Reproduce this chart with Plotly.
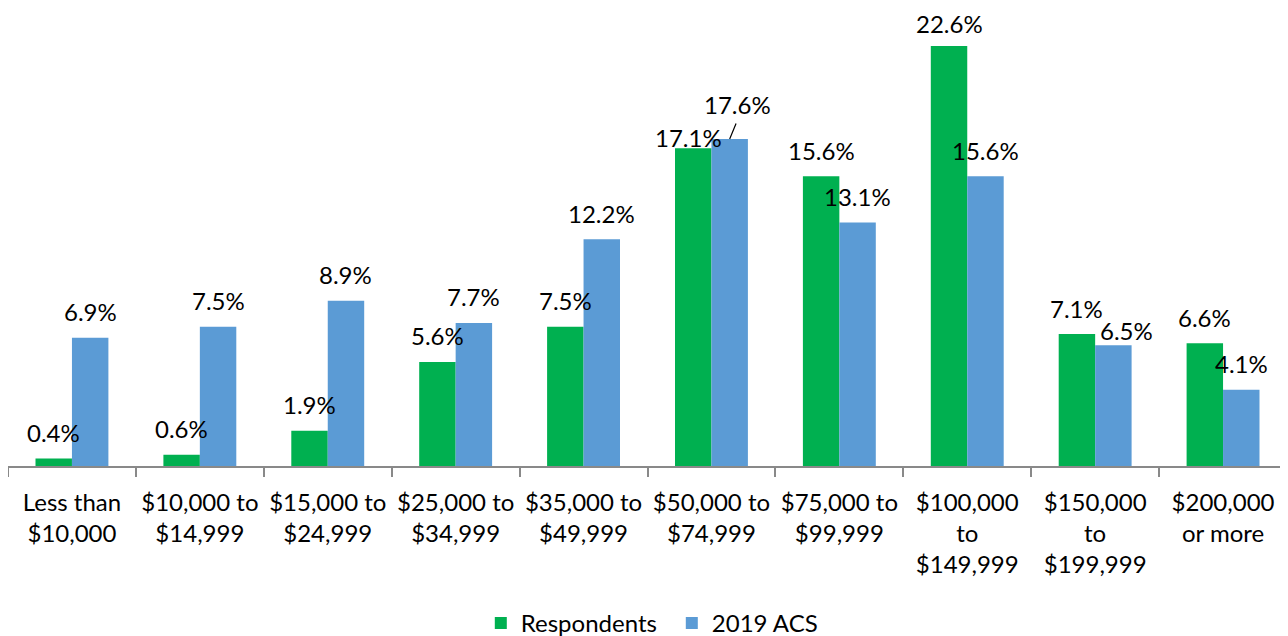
import plotly.graph_objects as go

categories = [
    "Less than<br>$10,000", "$10,000 to<br>$14,999", "$15,000 to<br>$24,999",
    "$25,000 to<br>$34,999", "$35,000 to<br>$49,999", "$50,000 to<br>$74,999",
    "$75,000 to<br>$99,999", "$100,000<br>to<br>$149,999", "$150,000<br>to<br>$199,999",
    "$200,000<br>or more",
]
respondents = [0.4, 0.6, 1.9, 5.6, 7.5, 17.1, 15.6, 22.6, 7.1, 6.6]
acs_2019 = [6.9, 7.5, 8.9, 7.7, 12.2, 17.6, 13.1, 15.6, 6.5, 4.1]

GREEN = "#00B050"
BLUE = "#5B9BD5"
FONT = "Lato"
BARGAP = 0.43

fig = go.Figure()
fig.add_trace(go.Bar(name="Respondents", x=categories, y=respondents,
                     marker=dict(color=GREEN, line=dict(width=0))))
fig.add_trace(go.Bar(name="2019 ACS", x=categories, y=acs_2019,
                     marker=dict(color=BLUE, line=dict(width=0))))

half = (1 - BARGAP) / 4
# label nudges (xshift, yshift) for a few labels, as in the original
nudge_resp = {5: (-5, 11), 7: (0, 23)}
nudge_acs = {5: (8, 34), 8: (13, 15)}

annotations = []
for i, v in enumerate(respondents):
    dx, dy = nudge_resp.get(i, (0, 26))
    annotations.append(dict(x=i - half, y=v, text=f"{v:.1f}%", showarrow=False,
                            xshift=dx, yshift=dy, yanchor="middle",
                            font=dict(family=FONT, size=24, color="#000")))
for i, v in enumerate(acs_2019):
    dx, dy = nudge_acs.get(i, (0, 26))
    annotations.append(dict(x=i + half, y=v, text=f"{v:.1f}%", showarrow=False,
                            xshift=dx, yshift=dy, yanchor="middle",
                            font=dict(family=FONT, size=24, color="#000")))
# leader line for the 17.6% label
annotations.append(dict(x=5 + half, y=acs_2019[5], text="", showarrow=True,
                        arrowhead=0, arrowwidth=1.2, arrowcolor="#000",
                        ax=7, ay=-17, standoff=0, startstandoff=0))

fig.update_layout(
    barmode="group",
    bargap=BARGAP,
    bargroupgap=0,
    width=1280, height=628,
    margin=dict(l=0, r=1, t=0, b=170, autoexpand=False),
    plot_bgcolor="white", paper_bgcolor="white",
    font=dict(family=FONT, size=24, color="#000"),
    annotations=annotations,
    showlegend=True,
    legend=dict(orientation="h", x=0.519, xanchor="center", y=-0.393, yanchor="bottom",
                font=dict(family=FONT, size=24, color="#000"), itemwidth=30,
                entrywidth=146, entrywidthmode="pixels",
                traceorder="normal"),
)
fig.update_xaxes(
    type="category", tickson="boundaries",
    showline=True, linecolor="#898989", linewidth=1.5,
    ticks="outside", ticklen=9, tickcolor="#898989", tickwidth=1.5,
    showgrid=False, zeroline=False, tickangle=0, ticklabelstandoff=14,
    tickfont=dict(family=FONT, size=24, color="#000"),
)
fig.update_yaxes(visible=False, range=[0, 24.65], showgrid=False, zeroline=False)

fig.write_html("out.html")
